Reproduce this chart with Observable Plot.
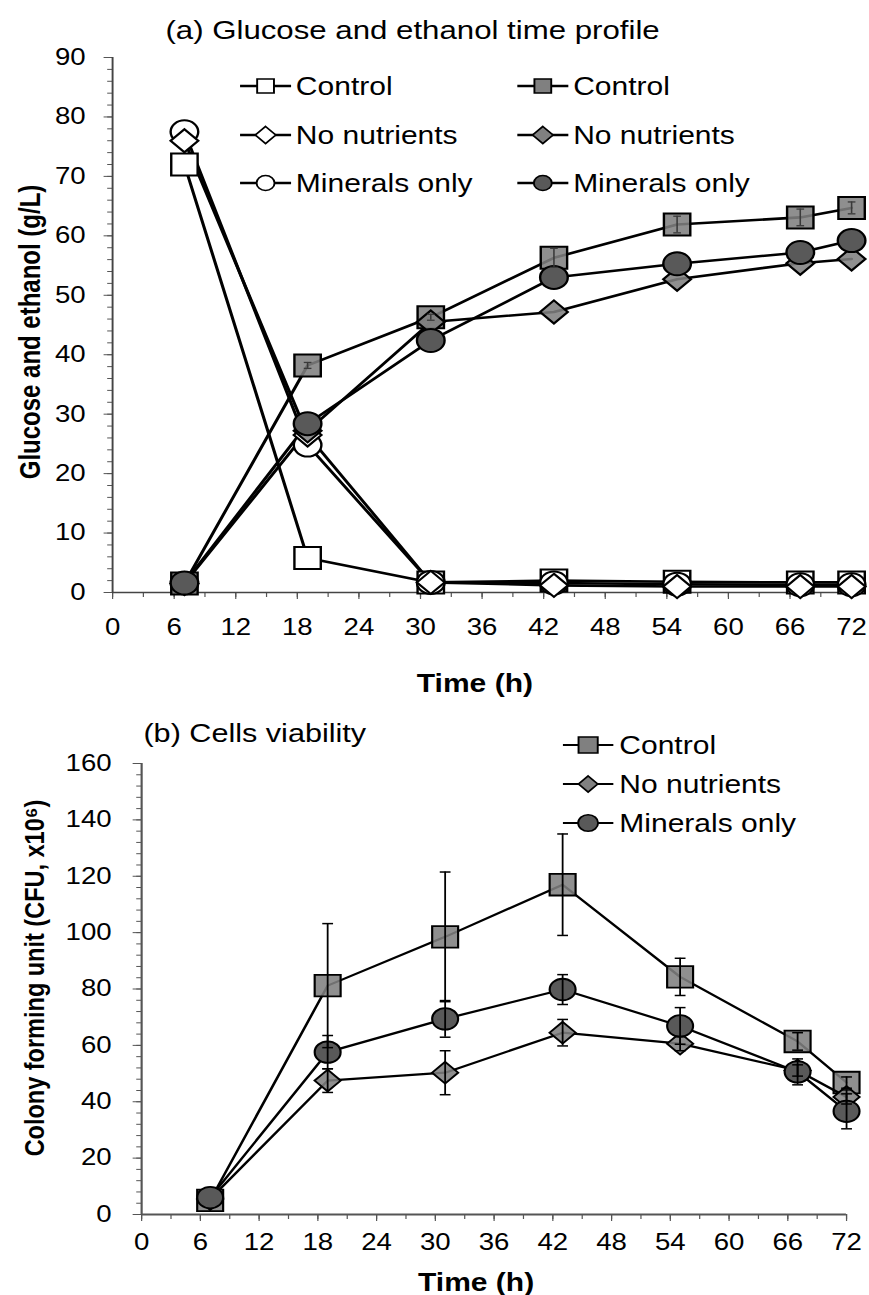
<!DOCTYPE html>
<html>
<head>
<meta charset="utf-8">
<script src="https://cdn.jsdelivr.net/npm/d3@7"></script>
<script src="https://cdn.jsdelivr.net/npm/@observablehq/plot@0.6"></script>
<style>
  body { margin: 0; background: #fff; }
  #wrap { width: 869px; }
  svg { display: block; }
</style>
</head>
<body>
<div id="wrap"></div>
<script>
// ---------- DATA ----------
const seriesNames = ["Control", "No nutrients", "Minerals only"];
const timeTicks = [0, 6, 12, 18, 24, 30, 36, 42, 48, 54, 60, 66, 72];
const timeMinorTicks = d3.range(0, 73, 3);

// Panel (a): glucose (open markers) and ethanol (filled markers), g/L
const titleA = "(a) Glucose and ethanol time profile";
const yLabelA = "Glucose and ethanol (g/L)";
const xLabel = "Time (h)";
const yTicksA = [0, 10, 20, 30, 40, 50, 60, 70, 80, 90];
const yMinorTicksA = d3.range(0, 91, 2);
const timesA = [7, 19, 31, 43, 55, 67, 72];
const glucoseControl = [72.0, 5.8, 1.7, 2.0, 1.8, 1.7, 1.7];
const glucoseNoNutrients = [76.0, 26.5, 1.7, 1.2, 1.0, 1.0, 1.0];
const glucoseMinerals = [77.5, 24.8, 1.7, 1.6, 1.4, 1.3, 1.3];
const ethanolControl = [1.5, 38.2, 46.3, 56.3, 61.9, 63.1, 64.7];
const ethanolControlErr = [0, 0.5, 0.5, 1.6, 1.4, 1.4, 1.0];
const ethanolNoNutrients = [1.5, 27.2, 45.5, 47.2, 52.7, 55.4, 56.1];
const ethanolMinerals = [1.6, 28.4, 42.4, 53.0, 55.3, 57.2, 59.2];

// Panel (b): cells viability, CFU x10^6
const titleB = "(b) Cells viability";
const yLabelB = "Colony forming unit (CFU, x10\u2076)";
const yTicksB = [0, 20, 40, 60, 80, 100, 120, 140, 160];
const yMinorTicksB = d3.range(0, 161, 4);
const timesB = [7, 19, 31, 43, 55, 67, 72];
const cfuControl = [5.0, 81.2, 98.5, 117.0, 84.3, 61.4, 46.8];
const cfuControlErr = [0, 22.0, 23.0, 18.0, 6.6, 3.1, 2.0];
const cfuNoNutrients = [5.5, 47.5, 50.3, 64.5, 60.6, 51.1, 41.7];
const cfuNoNutrientsErr = [0, 4.2, 7.8, 4.7, 2.5, 2.0, 2.5];
const cfuMinerals = [6.0, 57.6, 69.4, 79.8, 66.9, 50.6, 36.6];
const cfuMineralsErr = [0, 5.9, 6.5, 5.3, 6.5, 4.6, 6.2];

// ---------- STYLE ----------
const FONT = '"Liberation Sans", Arial, Helvetica, sans-serif';
const W = 724;               // drawing width, stretched to 869 px
const OUTW = 869;
const AXC = "#555";
const SQ_FILL = "#808080";
const CI_FILL = "#595959";

const rows = (times, vals, errs, key) =>
  times.map((t, i) => ({t, v: vals[i], e: errs ? errs[i] : 0, key}));
const withErr = (r) => r.filter(d => d.e > 0);

const capSymbol = (hw) => ({ draw(ctx) { ctx.moveTo(-hw, 0); ctx.lineTo(hw, 0); } });

function stretch(svg, h) {
  svg.setAttribute("width", OUTW);
  svg.setAttribute("height", h);
  svg.setAttribute("viewBox", `0 0 ${W} ${h}`);
  svg.setAttribute("preserveAspectRatio", "none");
  svg.style.width = OUTW + "px";
  svg.style.height = h + "px";
  svg.style.maxWidth = "none";
}

function drawLegend(svg, entries, opt) {
  const g = d3.select(svg).append("g").attr("font-family", FONT).attr("text-anchor", "start");
  entries.forEach(en => {
    const x0 = opt.cols[en.col], y = opt.rows[en.row];
    g.append("line").attr("x1", x0).attr("x2", x0 + opt.len).attr("y1", y).attr("y2", y)
      .attr("stroke", "black").attr("stroke-width", opt.lw);
    const s = opt.sizes[en.symbol];
    const sym = en.symbol === "square" ? d3.symbolSquare : en.symbol === "circle" ? d3.symbolCircle : d3.symbolDiamond2;
    g.append("path").attr("d", d3.symbol(sym, s)())
      .attr("transform", `translate(${x0 + opt.len / 2},${y})`)
      .attr("fill", en.fill).attr("stroke", "black").attr("stroke-width", 1.6);
    g.append("text").attr("x", x0 + opt.textOff).attr("y", y).attr("dy", "0.36em")
      .attr("text-anchor", "start")
      .attr("font-size", opt.fontSize).attr("fill", "black").text(en.label);
  });
}

// ---------- PANEL A ----------
const gC = rows(timesA, glucoseControl, null, "gC");
const gN = rows(timesA, glucoseNoNutrients, null, "gN");
const gM = rows(timesA, glucoseMinerals, null, "gM");
const eC = rows(timesA, ethanolControl, ethanolControlErr, "eC");
const eN = rows(timesA, ethanolNoNutrients, null, "eN");
const eM = rows(timesA, ethanolMinerals, null, "eM");
const eCerr = withErr(eC);

const HA = 700;
const plotA = Plot.plot({
  width: W, height: HA,
  marginLeft: 93.3, marginRight: 15, marginTop: 57, marginBottom: 108,
  x: {domain: [0, 72]},
  y: {domain: [0, 90]},
  style: {fontFamily: FONT, background: "white", color: "black"},
  marks: [
    Plot.axisY(yMinorTicksA, {tickSize: 4, tickFormat: () => "", label: null, stroke: AXC}),
    Plot.axisY(yTicksA, {tickSize: 7, tickPadding: 15.5, fontSize: 23, label: null, stroke: AXC, fill: "black"}),
    Plot.axisX(timeMinorTicks, {tickSize: 5, tickFormat: () => "", label: null, stroke: AXC}),
    Plot.axisX(timeTicks, {tickSize: 7, tickPadding: 19, fontSize: 23, label: null, stroke: AXC, fill: "black"}),
    Plot.ruleX([0], {stroke: "#444", strokeWidth: 1.6}),
    Plot.ruleY([0], {stroke: "#444", strokeWidth: 1.6}),
    Plot.line([...gC, ...gN, ...gM, ...eC, ...eN, ...eM], {x: "t", y: "v", z: "key", stroke: "black", strokeWidth: 2.6}),
    Plot.dot(gC, {x: "t", y: "v", symbol: "square", r: 12.4, fill: "white", stroke: "black", strokeWidth: 2}),
    Plot.dot(gM, {x: "t", y: "v", symbol: "circle", r: 11.5, fill: "white", stroke: "black", strokeWidth: 2}),
    Plot.dot(gN, {x: "t", y: "v", symbol: "diamond2", r: 10.4, fill: "white", stroke: "black", strokeWidth: 2}),
    Plot.dot(eC, {x: "t", y: "v", symbol: "square", r: 12.4, fill: SQ_FILL, fillOpacity: 0.88, stroke: "black", strokeWidth: 2}),
    Plot.dot(eN, {x: "t", y: "v", symbol: "diamond2", r: 10.4, fill: SQ_FILL, fillOpacity: 0.88, stroke: "black", strokeWidth: 2}),
    Plot.dot(eM, {x: "t", y: "v", symbol: "circle", r: 11.5, fill: CI_FILL, stroke: "black", strokeWidth: 2}),
    Plot.ruleX(eCerr, {x: "t", y1: d => d.v - d.e, y2: d => d.v + d.e, stroke: "#3a3a3a", strokeWidth: 1.3}),
    Plot.dot(eCerr, {x: "t", y: d => d.v + d.e, symbol: capSymbol(3.2), stroke: "#3a3a3a", strokeWidth: 1.3}),
    Plot.dot(eCerr, {x: "t", y: d => d.v - d.e, symbol: capSymbol(3.2), stroke: "#3a3a3a", strokeWidth: 1.3}),
    Plot.text([titleA], {text: d => d, frameAnchor: "top-left", textAnchor: "start", lineAnchor: "middle", dx: 44, dy: -27, fontSize: 26, fill: "black"}),
    Plot.text([yLabelA], {text: d => d, frameAnchor: "left", textAnchor: "middle", lineAnchor: "middle", rotate: -90, dx: -68, dy: 7, fontSize: 24, fontWeight: "bold", fill: "black"}),
    Plot.text([xLabel], {text: d => d, frameAnchor: "bottom", textAnchor: "middle", lineAnchor: "middle", dx: -6, dy: 91, fontSize: 25, fontWeight: "bold", fill: "black"})
  ]
});
stretch(plotA, HA);
drawLegend(plotA, [
  {label: seriesNames[0], symbol: "square", fill: "white", row: 0, col: 0},
  {label: seriesNames[1], symbol: "diamond", fill: "white", row: 1, col: 0},
  {label: seriesNames[2], symbol: "circle", fill: "white", row: 2, col: 0},
  {label: seriesNames[0], symbol: "square", fill: SQ_FILL, row: 0, col: 1},
  {label: seriesNames[1], symbol: "diamond", fill: SQ_FILL, row: 1, col: 1},
  {label: seriesNames[2], symbol: "circle", fill: CI_FILL, row: 2, col: 1}
], {cols: [200, 431], rows: [86, 135, 183], len: 42.5, textOff: 46.5, lw: 2.5, fontSize: 25,
    sizes: {square: 14 * 14, circle: Math.PI * 7.5 * 7.5, diamond: 184}});
document.getElementById("wrap").appendChild(plotA);

// ---------- PANEL B ----------
const bC = rows(timesB, cfuControl, cfuControlErr, "C");
const bN = rows(timesB, cfuNoNutrients, cfuNoNutrientsErr, "N");
const bM = rows(timesB, cfuMinerals, cfuMineralsErr, "M");
const allBerr = withErr([...bC, ...bN, ...bM]);

const HB = 595;
const plotB = Plot.plot({
  width: W, height: HB,
  marginLeft: 117.5, marginRight: 19.2, marginTop: 63, marginBottom: 81,
  x: {domain: [0, 72]},
  y: {domain: [0, 160]},
  style: {fontFamily: FONT, background: "white", color: "black"},
  marks: [
    Plot.axisY(yMinorTicksB, {tickSize: 4, tickFormat: () => "", label: null, stroke: AXC}),
    Plot.axisY(yTicksB, {tickSize: 7, tickPadding: 18, fontSize: 23, label: null, stroke: AXC, fill: "black"}),
    Plot.axisX(timeMinorTicks, {tickSize: 5, tickFormat: () => "", label: null, stroke: AXC}),
    Plot.axisX(timeTicks, {tickSize: 7, tickPadding: 12, fontSize: 23, label: null, stroke: AXC, fill: "black"}),
    Plot.ruleX([0], {stroke: "#555", strokeWidth: 1.8}),
    Plot.ruleY([0], {stroke: "#555", strokeWidth: 1.8}),
    Plot.line(bC, {x: "t", y: "v", stroke: "black", strokeWidth: 2.2}),
    Plot.dot(bC, {x: "t", y: "v", symbol: "square", r: 12.2, fill: SQ_FILL, fillOpacity: 0.88, stroke: "black", strokeWidth: 1.8}),
    Plot.line(bN, {x: "t", y: "v", stroke: "black", strokeWidth: 2.2}),
    Plot.dot(bN, {x: "t", y: "v", symbol: "diamond2", r: 9.8, fill: SQ_FILL, fillOpacity: 0.88, stroke: "black", strokeWidth: 1.8}),
    Plot.line(bM, {x: "t", y: "v", stroke: "black", strokeWidth: 2.2}),
    Plot.dot(bM, {x: "t", y: "v", symbol: "circle", r: 10.8, fill: CI_FILL, stroke: "black", strokeWidth: 1.8}),
    Plot.ruleX(allBerr, {x: "t", y1: d => d.v - d.e, y2: d => d.v + d.e, stroke: "black", strokeWidth: 1.5}),
    Plot.dot(allBerr, {x: "t", y: d => d.v + d.e, symbol: capSymbol(4.5), stroke: "black", strokeWidth: 1.5}),
    Plot.dot(allBerr, {x: "t", y: d => d.v - d.e, symbol: capSymbol(4.5), stroke: "black", strokeWidth: 1.5}),
    Plot.text([titleB], {text: d => d, frameAnchor: "top-left", textAnchor: "start", lineAnchor: "middle", dx: 1.5, dy: -30, fontSize: 25.5, fill: "black"}),
    Plot.text([yLabelB], {text: d => d, frameAnchor: "left", textAnchor: "middle", lineAnchor: "middle", rotate: -90, dx: -89, dy: -11, fontSize: 23.5, fontWeight: "bold", fill: "black"}),
    Plot.text([xLabel], {text: d => d, frameAnchor: "bottom", textAnchor: "middle", lineAnchor: "middle", dx: -15, dy: 68, fontSize: 25, fontWeight: "bold", fill: "black"})
  ]
});
stretch(plotB, HB);
drawLegend(plotB, [
  {label: seriesNames[0], symbol: "square", fill: SQ_FILL, row: 0, col: 0},
  {label: seriesNames[1], symbol: "diamond", fill: SQ_FILL, row: 1, col: 0},
  {label: seriesNames[2], symbol: "circle", fill: CI_FILL, row: 2, col: 0}
], {cols: [469], rows: [45, 84, 123], len: 42, textOff: 47, lw: 2.2, fontSize: 25,
    sizes: {square: 16 * 16, circle: Math.PI * 8.3 * 8.3, diamond: 163}});
document.getElementById("wrap").appendChild(plotB);
</script>
</body>
</html>
